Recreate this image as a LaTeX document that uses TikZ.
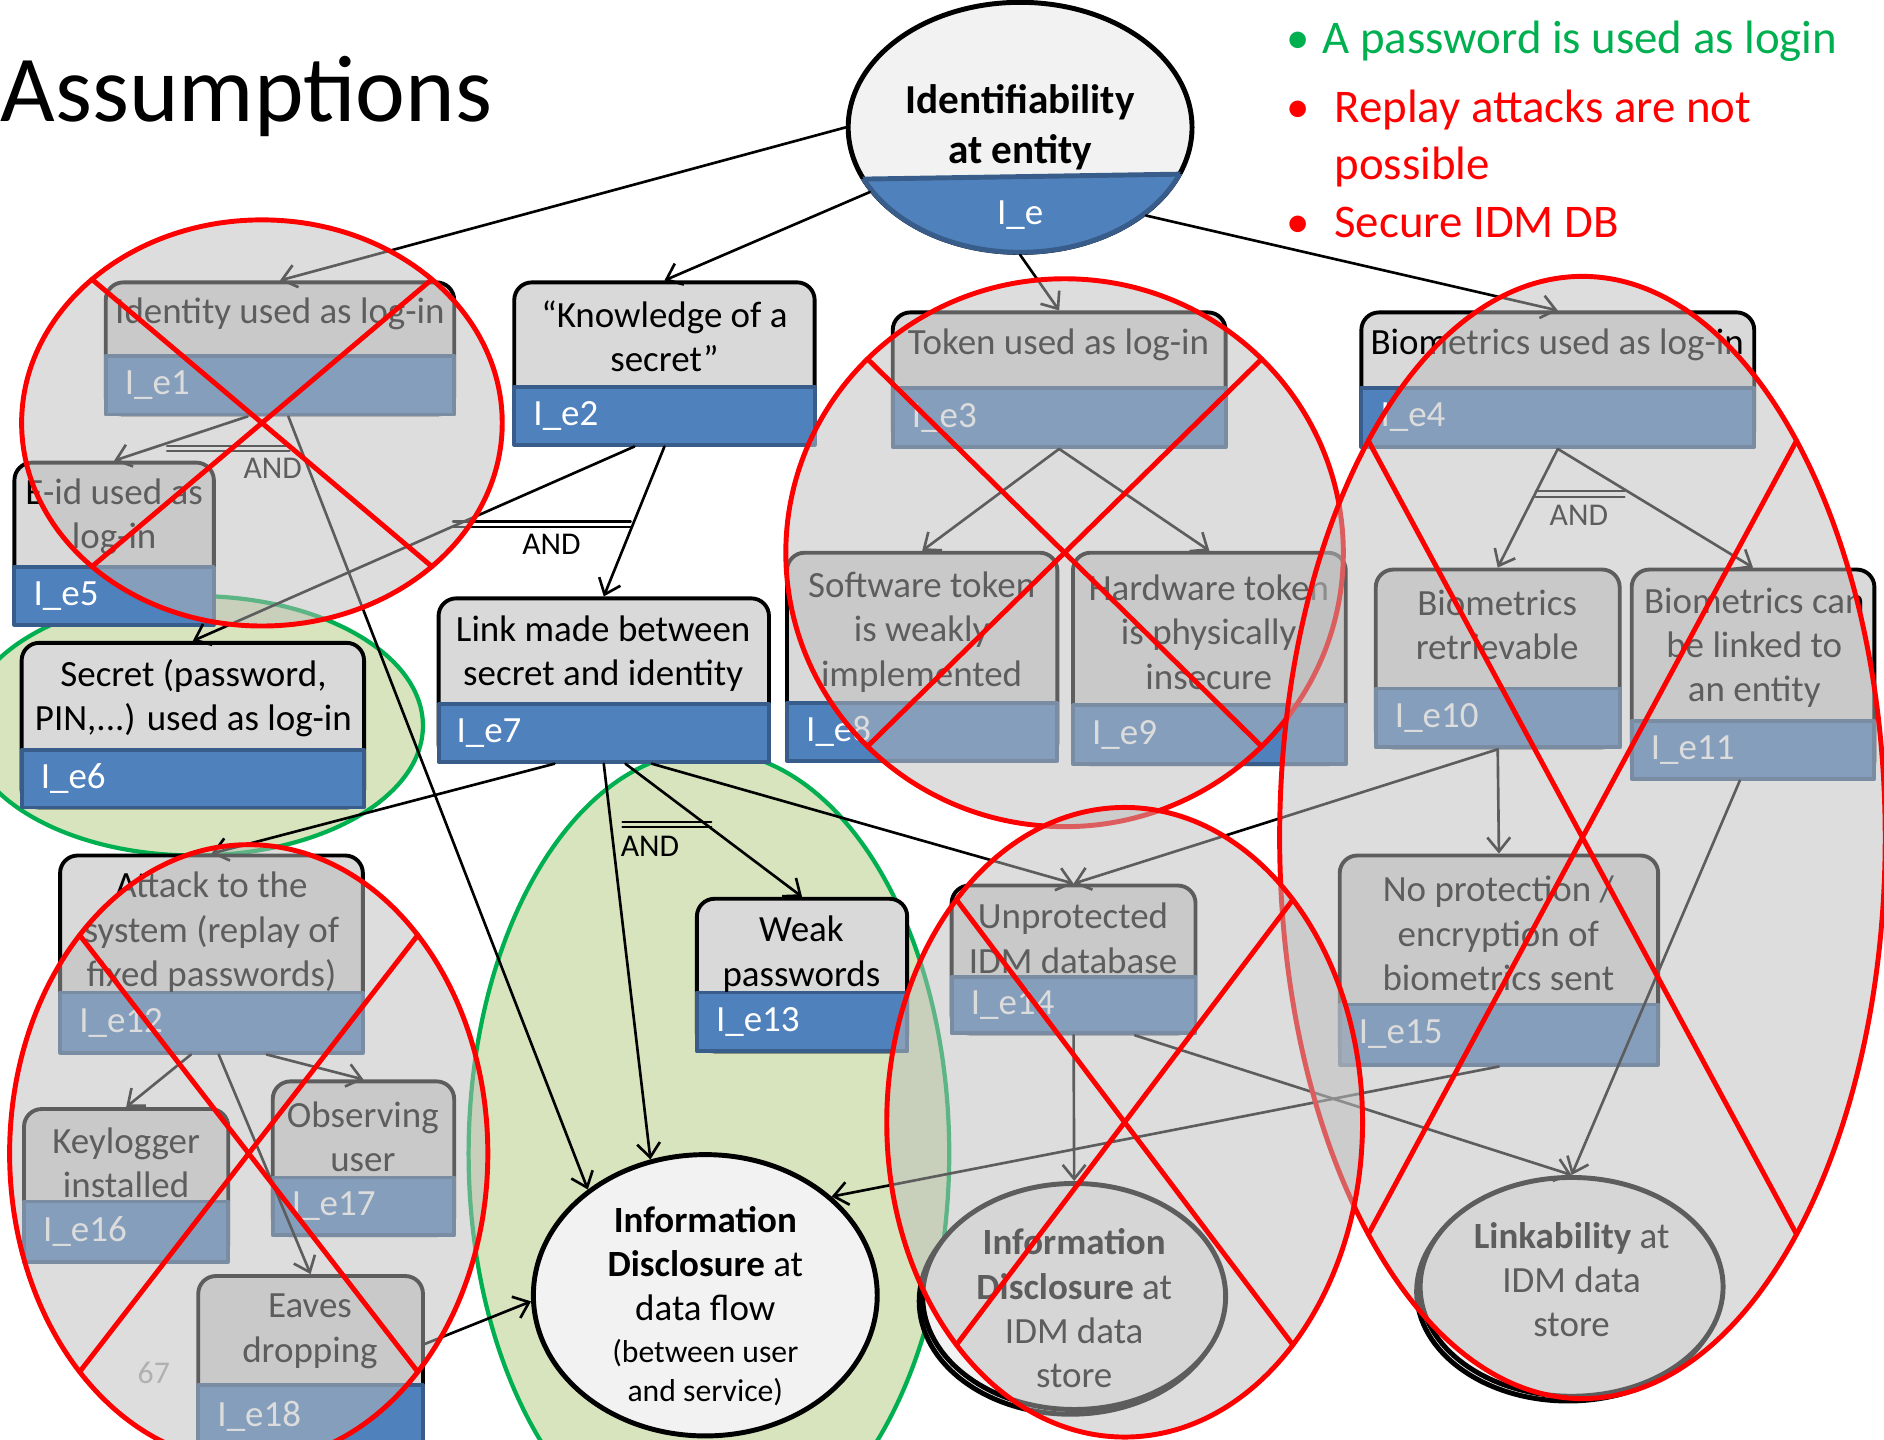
\documentclass[tikz,border=0pt]{standalone}
\usepackage{fontspec}
\setmainfont{Carlito}
\usetikzlibrary{arrows.meta,shapes.geometric,fit,calc}
\definecolor{hdrgray}{RGB}{217,217,217}
\definecolor{bandblue}{RGB}{79,129,189}
\definecolor{bandedge}{RGB}{56,93,138}
\definecolor{circfill}{RGB}{242,242,242}
\definecolor{okfill}{RGB}{215,228,189}
\definecolor{okline}{RGB}{0,176,80}
\definecolor{veil}{RGB}{187,187,187}
\definecolor{pagegray}{RGB}{166,166,166}

\begin{document}
\begin{tikzpicture}[
	x=0.012cm, y=-0.012cm,
	line cap=round,
	line join=round,
	hdr/.style={draw=black, line width=1.1pt, fill=hdrgray, rounded corners=5pt, inner sep=0pt},
	band/.style={draw=bandedge, line width=1.1pt, fill=bandblue, inner sep=0pt},
	lbl/.style={anchor=west, text=white, inner sep=0pt, font=\fontsize{10.5}{12.6}\selectfont},
	txt/.style={align=center, inner sep=0pt, font=\fontsize{10.5}{12.6}\selectfont},
	circ/.style={ellipse, draw=black, line width=1.4pt, fill=circfill, inner sep=0pt},
	edge/.style={-{Straight Barb[length=4pt,width=6.5pt]}, line width=0.75pt},
	andbar/.style={line width=0.6pt},
	andlbl/.style={inner sep=0pt, font=\fontsize{9}{10.8}\selectfont},
	note/.style={anchor=west, inner sep=0pt, font=\fontsize{13.3}{16.3}\selectfont},
	okzone/.style={draw=okline, line width=1.2pt, fill=okfill},
	nozone/.style={draw=red, line width=1.4pt, fill=veil, fill opacity=0.5},
	cross/.style={draw=red, line width=1.4pt}
	]
	\useasboundingbox (0,0) rectangle (1568,1198);
	\clip (0,0) rectangle (1568,1198);

	% assumptions
	\node[anchor=west, inner sep=0pt, font=\fontsize{26.8}{32}\selectfont] (title) at (0,80) {Assumptions};
	\node[note, text=okline] (a1) at (1070,34) {\makebox[0.36cm][l]{\textbullet}A password is used as login};
	\node[note, text=red] (a2) at (1070,140) {\begin{tabular}{@{}p{0.48cm}@{}l@{}}\textbullet & Replay attacks are not\\ & possible\\ \textbullet & Secure IDM DB\end{tabular}};

	% kept branches
	\path[okzone] (162,604) ellipse [x radius=190, y radius=108];
	\path[okzone] (590,960) ellipse [x radius=200, y radius=335];

	% root
	\node[circ, minimum width=3.432cm, minimum height=2.496cm] (ie) at (849,106) {};
	\begin{scope}
		\clip (690,149.5) -- (1010,144.5) -- (1010,230) -- (690,230) -- cycle;
		\filldraw[fill=bandblue, draw=bandedge, line width=1.4pt] (849,106) ellipse [x radius=143, y radius=104];
	\end{scope}
	\begin{scope}
		\clip (849,106) ellipse [x radius=143, y radius=104];
		\draw[bandedge, line width=1.4pt] (690,149.5) -- (1010,144.5);
	\end{scope}
	\node[txt, font=\fontsize{11.7}{14.3}\selectfont\bfseries] (iet) at (849,106) {Identifiability\\at entity};
	\node[txt, text=white] (iel) at (849,179) {I\_e};

	% boxes
	\node[hdr, fit={(88,235) (378,345)}] (e1) {};
	\node[band, fit={(88,296) (378,345)}] (e1b) {};
	\node[lbl] (e1l) at ($(e1b.west)+(17,0)$) {I\_e1};
	\node[txt] (e1t) at (233,261) {Identity used as log-in};

	\node[hdr, fit={(428,235) (678,370)}] (e2) {};
	\node[band, fit={(428,322) (678,370)}] (e2b) {};
	\node[lbl] (e2l) at ($(e2b.west)+(17,0)$) {I\_e2};
	\node[txt] (e2t) at (553,280) {“Knowledge of a\\secret”};

	\node[hdr, fit={(743,260) (1020,372)}] (e3) {};
	\node[band, fit={(743,323) (1020,372)}] (e3b) {};
	\node[lbl] (e3l) at ($(e3b.west)+(17,0)$) {I\_e3};
	\node[txt] (e3t) at (881,287) {Token used as log-in};

	\node[hdr, fit={(1133,260) (1460,372)}] (e4) {};
	\node[band, fit={(1133,323) (1460,372)}] (e4b) {};
	\node[lbl] (e4l) at ($(e4b.west)+(17,0)$) {I\_e4};
	\node[txt] (e4t) at (1296,287) {Biometrics used as log-in};

	\node[hdr, fit={(12,385) (178,520)}] (e5) {};
	\node[band, fit={(12,472) (178,520)}] (e5b) {};
	\node[lbl] (e5l) at ($(e5b.west)+(17,0)$) {I\_e5};
	\node[txt] (e5t) at (95,430) {E-id used as\\log-in};

	\node[hdr, fit={(18,535) (303,672)}] (e6) {};
	\node[band, fit={(18,624) (303,672)}] (e6b) {};
	\node[lbl] (e6l) at ($(e6b.west)+(17,0)$) {I\_e6};
	\node[txt] (e6t) at (161,581) {Secret (password,\\PIN,...) used as log-in};

	\node[hdr, fit={(365,498) (640,634)}] (e7) {};
	\node[band, fit={(365,586) (640,634)}] (e7b) {};
	\node[lbl] (e7l) at ($(e7b.west)+(16,0)$) {I\_e7};
	\node[txt] (e7t) at (502,544) {Link made between\\secret and identity};

	\node[hdr, fit={(655,460) (880,633)}] (e8) {};
	\node[band, fit={(655,585) (880,633)}] (e8b) {};
	\node[lbl] (e8l) at ($(e8b.west)+(17,0)$) {I\_e8};
	\node[txt] (e8t) at (767,526) {Software token\\is weakly\\implemented};

	\node[hdr, fit={(893,460) (1120,636)}] (e9) {};
	\node[band, fit={(893,587) (1120,636)}] (e9b) {};
	\node[lbl] (e9l) at ($(e9b.west)+(17,0)$) {I\_e9};
	\node[txt] (e9t) at (1006,526) {Hardware token\\is physically\\insecure};

	\node[hdr, fit={(1145,474) (1348,622)}] (e10) {};
	\node[band, fit={(1145,573) (1348,622)}] (e10b) {};
	\node[lbl] (e10l) at ($(e10b.west)+(17,0)$) {I\_e10};
	\node[txt] (e10t) at (1246,520) {Biometrics\\retrievable};

	\node[hdr, fit={(1358,474) (1560,648)}] (e11) {};
	\node[band, fit={(1358,600) (1560,648)}] (e11b) {};
	\node[lbl] (e11l) at ($(e11b.west)+(17,0)$) {I\_e11};
	\node[txt] (e11t) at (1460,539) {Biometrics can\\be linked to\\an entity};

	\node[hdr, fit={(50,712) (302,876)}] (e12) {};
	\node[band, fit={(50,826) (302,876)}] (e12b) {};
	\node[lbl] (e12l) at ($(e12b.west)+(17,0)$) {I\_e12};
	\node[txt] (e12t) at (176,776) {Attack to the\\system (replay of\\fixed passwords)};

	\node[hdr, fit={(580,748) (755,875)}] (e13) {};
	\node[band, fit={(580,826) (755,875)}] (e13b) {};
	\node[lbl] (e13l) at ($(e13b.west)+(17,0)$) {I\_e13};
	\node[txt] (e13t) at (667,794) {Weak\\passwords};

	\node[hdr, fit={(792,737) (995,860)}] (e14) {};
	\node[band, fit={(792,813) (995,860)}] (e14b) {};
	\node[lbl] (e14l) at ($(e14b.west)+(17,0)$) {I\_e14};
	\node[txt] (e14t) at (893,781) {Unprotected\\IDM database};

	\node[hdr, fit={(1115,712) (1380,886)}] (e15) {};
	\node[band, fit={(1115,836) (1380,886)}] (e15b) {};
	\node[lbl] (e15l) at ($(e15b.west)+(17,0)$) {I\_e15};
	\node[txt] (e15t) at (1247,777) {No protection /\\encryption of\\biometrics sent};

	\node[hdr, fit={(20,923) (190,1050)}] (e16) {};
	\node[band, fit={(20,1000) (190,1050)}] (e16b) {};
	\node[lbl] (e16l) at ($(e16b.west)+(17,0)$) {I\_e16};
	\node[txt] (e16t) at (105,968) {Keylogger\\installed};

	\node[hdr, fit={(227,900) (378,1028)}] (e17) {};
	\node[band, fit={(227,980) (378,1028)}] (e17b) {};
	\node[lbl] (e17l) at ($(e17b.west)+(17,0)$) {I\_e17};
	\node[txt] (e17t) at (302,946) {Observing\\user};

	\node[hdr, fit={(165,1062) (352,1205)}] (e18) {};
	\node[band, fit={(165,1153) (352,1205)}] (e18b) {};
	\node[lbl] (e18l) at ($(e18b.west)+(17,0)$) {I\_e18};
	\node[txt] (e18t) at (258,1108) {Eaves\\dropping};

	% goals
	\node[circ, minimum width=3.432cm, minimum height=2.808cm] (idf) at (587,1078) {};
	\node[txt] (idft) at (587,1087) {\textbf{Information}\\\textbf{Disclosure} at\\data flow\\[-0.7pt]{\fontsize{9}{10.8}\selectfont(between user}\\[-1.6pt]{\fontsize{9}{10.8}\selectfont and service)}};
	\filldraw[fill=circfill, line width=1.4pt] (891,1083) ellipse [x radius=126, y radius=94];
	\node[circ, minimum width=3.024cm, minimum height=2.256cm] (ids) at (894,1079) {};
	\node[txt] (idst) at (894,1089) {\textbf{Information}\\\textbf{Disclosure} at\\IDM data\\store};
	\filldraw[fill=circfill, line width=1.4pt] (1305,1075) ellipse [x radius=126, y radius=91];
	\node[circ, minimum width=3.024cm, minimum height=2.184cm] (lnk) at (1308,1071) {};
	\node[txt] (lnkt) at (1308,1065) {\textbf{Linkability} at\\IDM data\\store};

	\node[inner sep=0pt, text=pagegray, font=\fontsize{9}{10.8}\selectfont] (pg) at (128,1143) {67};

	% refinements
	\draw[edge] (ie.west) -- (e1.north);
	\draw[edge] (ie) -- (e2.north);
	\draw[edge] (ie.south) -- (e3.north);
	\draw[edge] (ie.-35) -- (e4.north);
	\draw[edge] ($(e1b.south)+(-27,0)$) -- (e5.north);
	\draw[edge] ($(e1b.south)+(7,0)$) -- (idf.138);
	\draw[edge] ($(e2b.south)+(-25,0)$) -- (e6.north);
	\draw[edge] (e2b.south) -- (e7.north);
	\draw[edge] (e3b.south) -- (e8.north);
	\draw[edge] (e3b.south) -- (e9.north);
	\draw[edge] (e4b.south) -- (e10.north);
	\draw[edge] (e4b.south) -- (e11.north);
	\draw[edge] ($(e7b.south)+(-41,0)$) -- (e12.north);
	\draw[edge] (e7b.south) -- (idf.112);
	\draw[edge] ($(e7b.south)+(18,0)$) -- (e13.north);
	\draw[edge] ($(e7b.south)+(40,0)$) -- (e14.north);
	\draw[edge] (e10b.south) -- (e14.north);
	\draw[edge] (e10b.south) -- (e15.north);
	\draw[edge] ($(e11b.south)+(-11,0)$) -- (lnk.north);
	\draw[edge] (e14b.south) -- (ids.north);
	\draw[edge] ($(e14b.south)+(51,0)$) -- (lnk.north);
	\draw[edge] (e15b.south) -- (idf.38);
	\draw[edge] ($(e12b.south)+(-17,0)$) -- (e16.north);
	\draw[edge] ($(e12b.south)+(6,0)$) -- (e18.north);
	\draw[edge] ($(e12b.south)+(46,0)$) -- (e17.north);
	\draw[edge] ($(e18.east)+(0,-15)$) -- (idf.182);

	% AND marks
	\draw[andbar] (139,371) -- (241,371) (139,375.5) -- (241,375.5);
	\node[andlbl] (and1) at (227,390) {AND};
	\draw[andbar] (377,434) -- (525,434) (377,438.5) -- (525,438.5);
	\node[andlbl] (and2) at (459,453) {AND};
	\draw[andbar] (1278,409) -- (1352,409) (1278,413.5) -- (1352,413.5);
	\node[andlbl] (and3) at (1314,429) {AND};
	\draw[andbar] (518,684) -- (592,684) (518,688.5) -- (592,688.5);
	\node[andlbl] (and4) at (541,704) {AND};

	% ruled out by the assumptions
	\begin{scope}[shift={(218,352)}]
		\path[nozone] (0,0) ellipse [x radius=200, y radius=169];
		\draw[cross] (45:200 and 169) -- (225:200 and 169) (135:200 and 169) -- (315:200 and 169);
	\end{scope}
	\begin{scope}[shift={(886,460)}]
		\path[nozone] (0,0) ellipse [x radius=232, y radius=228];
		\draw[cross] (45:232 and 228) -- (225:232 and 228) (135:232 and 228) -- (315:232 and 228);
	\end{scope}
	\begin{scope}[shift={(1317,697)}]
		\path[nozone] (0,0) ellipse [x radius=252, y radius=467];
		\draw[cross] (45:252 and 467) -- (225:252 and 467) (135:252 and 467) -- (315:252 and 467);
	\end{scope}
	\begin{scope}[shift={(936,934)}]
		\path[nozone] (0,0) ellipse [x radius=198, y radius=262];
		\draw[cross] (45:198 and 262) -- (225:198 and 262) (135:198 and 262) -- (315:198 and 262);
	\end{scope}
	\begin{scope}[shift={(207,960)}]
		\path[nozone] (0,0) ellipse [x radius=199, y radius=257];
		\draw[cross] (45:199 and 257) -- (225:199 and 257) (135:199 and 257) -- (315:199 and 257);
	\end{scope}
\end{tikzpicture}
\end{document}
